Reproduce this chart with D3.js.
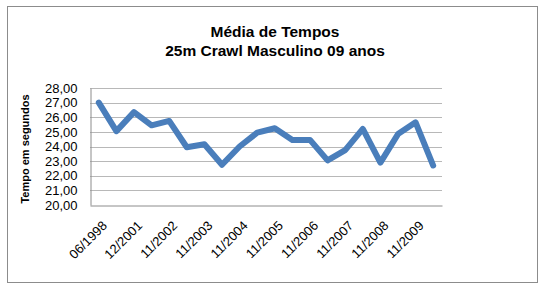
<!DOCTYPE html>
<html>
<head>
<meta charset="utf-8">
<script src="https://cdn.jsdelivr.net/npm/d3@7"></script>
<style>
  body { margin: 0; background: #fff; }
  text { font-family: "Liberation Sans", Arial, sans-serif; }
</style>
</head>
<body>
<svg id="chart"></svg>
<script>
const width = 546;
const height = 291;

// categories (only every other one is labelled in the reference)
const dates = [
  '06/1998', '12/2000', '12/2001', '06/2002', '11/2002', '06/2003', '11/2003',
  '06/2004', '11/2004', '06/2005', '11/2005', '06/2006', '11/2006', '06/2007',
  '11/2007', '06/2008', '11/2008', '06/2009', '11/2009', '06/2010'
];
const tempos = [
  27.0, 25.05, 26.35, 25.45, 25.75, 23.95, 24.15, 22.75, 24.0, 24.95,
  25.25, 24.45, 24.45, 23.05, 23.75, 25.2, 22.9, 24.85, 25.65, 22.7
];
const yTicks = [20, 21, 22, 23, 24, 25, 26, 27, 28];
const titleLines = ['Média de Tempos', '25m Crawl Masculino 09 anos'];
const yTitle = 'Tempo em segundos';

const margin = { top: 88, right: 104, bottom: 86, left: 90 };

const svg = d3.select('#chart')
  .attr('width', width)
  .attr('height', height);

// outer frame
svg.append('rect')
  .attr('x', 7.5).attr('y', 6.5)
  .attr('width', 530).attr('height', 276)
  .attr('fill', '#fff')
  .attr('stroke', '#8c8c8c')
  .attr('stroke-width', 1);

const x = d3.scaleBand()
  .domain(dates)
  .range([margin.left, width - margin.right]);

const y = d3.scaleLinear()
  .domain([20, 28])
  .range([height - margin.bottom, margin.top]);

// gridlines
svg.append('g')
  .selectAll('line')
  .data(yTicks.slice(1))
  .enter()
  .append('line')
  .attr('x1', margin.left)
  .attr('x2', width - margin.right)
  .attr('y1', function(d) { return Math.round(y(d)) + 0.5; })
  .attr('y2', function(d) { return Math.round(y(d)) + 0.5; })
  .attr('stroke', '#b8b8b8')
  .attr('stroke-width', 1);

// y axis
const yAxis = svg.append('g')
  .attr('transform', 'translate(' + (margin.left + 0.5) + ',0)')
  .call(d3.axisLeft(y)
    .tickValues(yTicks)
    .tickSize(0)
    .tickPadding(13)
    .tickFormat(function(d) { return d3.format('.2f')(d).replace('.', ','); }));
yAxis.select('.domain').attr('stroke', '#8c8c8c');
yAxis.selectAll('text')
  .attr('font-size', 13)
  .attr('fill', '#000')
  .style('font-family', '"Liberation Sans", Arial, sans-serif');

// x axis
const xAxis = svg.append('g')
  .attr('transform', 'translate(0,' + (Math.round(y(20)) + 0.5) + ')')
  .call(d3.axisBottom(x)
    .tickSize(0)
    .tickFormat(function(d, i) { return i % 2 === 0 ? d : ''; }));
xAxis.select('.domain').attr('stroke', '#8c8c8c');
xAxis.selectAll('text')
  .attr('font-size', 13)
  .attr('fill', '#000')
  .style('font-family', '"Liberation Sans", Arial, sans-serif')
  .attr('text-anchor', 'end')
  .attr('dy', null)
  .attr('y', 0)
  .attr('transform', 'translate(9,21) rotate(-45)');

// line
const line = d3.line()
  .x(function(d, i) { return x(dates[i]) + x.bandwidth() / 2; })
  .y(function(d) { return y(d); });

svg.append('path')
  .datum(tempos)
  .attr('d', line)
  .attr('fill', 'none')
  .attr('stroke', '#4a7ebb')
  .attr('stroke-width', 6)
  .attr('stroke-linejoin', 'round')
  .attr('stroke-linecap', 'round');

// title
svg.append('g')
  .selectAll('text')
  .data(titleLines)
  .enter()
  .append('text')
  .attr('x', 275)
  .attr('y', function(d, i) { return 37 + i * 19; })
  .attr('text-anchor', 'middle')
  .attr('font-size', 15.5)
  .attr('font-weight', 'bold')
  .text(function(d) { return d; });

// y axis title
svg.append('text')
  .attr('transform', 'translate(29,' + 149 + ') rotate(-90)')
  .attr('text-anchor', 'middle')
  .attr('font-size', 11)
  .attr('font-weight', 'bold')
  .text(yTitle);
</script>
</body>
</html>
